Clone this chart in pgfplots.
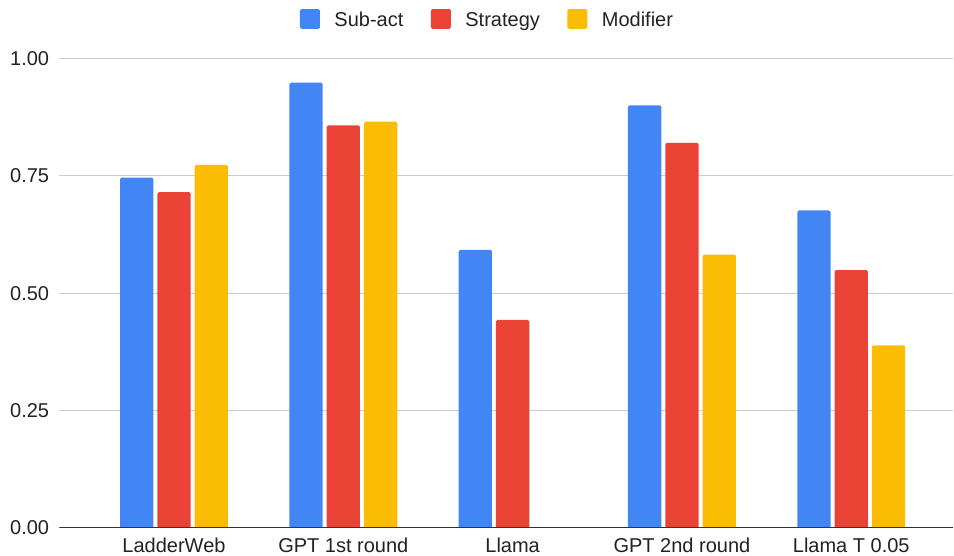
\documentclass[border=0pt]{standalone}
\usepackage{fontspec}
\setmainfont{Liberation Sans}
\usepackage{pgfplots}
\pgfplotsset{compat=1.18}
\definecolor{cblue}{HTML}{4285F4}
\definecolor{cred}{HTML}{EA4335}
\definecolor{cyellow}{HTML}{FBBC04}
\definecolor{tgray}{HTML}{222222}
\definecolor{gridc}{HTML}{CCCCCC}
\definecolor{axisc}{HTML}{333333}
\begin{document}
\begin{tikzpicture}
\useasboundingbox (0,0) rectangle (954pt,556pt);
\begin{axis}[
  at={(59.3pt,28pt)}, anchor=south west,
  scale only axis, width=893.7pt, height=469.7pt,
  xmin=-0.6775, xmax=4.601, ymin=0, ymax=1,
  ybar=4pt, bar width=33.3pt,
  axis line style={draw=none},
  major tick length=0pt,
  ymajorgrids, major grid style={gridc, line width=1pt},
  xtick={0,1,2,3,4},
  xticklabels={LadderWeb,GPT 1st round,Llama,GPT 2nd round,Llama T 0.05},
  ytick={0,0.25,0.5,0.75,1},
  font=\fontsize{20}{24}\selectfont,
  /pgf/number format/assume math mode=true,
  yticklabel style={/pgf/number format/.cd, fixed, fixed zerofill, precision=2, /tikz/.cd,
    font=\fontsize{20}{24}\selectfont, text=tgray, inner sep=0pt, xshift=-10pt},
  xticklabel style={font=\fontsize{20}{24}\selectfont, text=tgray, inner sep=0pt, anchor=north, yshift=-10pt},
  legend columns=3,
  legend style={at={(0.2693,1.0838)}, anchor=west, draw=none, fill=none, inner sep=0pt, outer sep=0pt,
    font=\fontsize{20}{24}\selectfont, text=tgray,
    nodes={inner sep=0pt},
    /tikz/every odd column/.style={column sep=14.5pt},
    /tikz/every even column/.style={column sep=27.5pt}},
  legend image code/.code={\fill[#1, rounded corners=1.5pt] (0pt,-9pt) rectangle (20pt,10.7pt);},
]
\addplot[fill=cblue, draw=none, rounded corners=1.5pt] coordinates {(0,0.746) (1,0.948) (2,0.592) (3,0.900) (4,0.676)};
\addplot[fill=cred, draw=none, rounded corners=1.5pt] coordinates {(0,0.715) (1,0.857) (2,0.443) (3,0.820) (4,0.549)};
\addplot[fill=cyellow, draw=none, rounded corners=1.5pt] coordinates {(0,0.773) (1,0.865) (3,0.582) (4,0.389)};
\legend{Sub-act,Strategy,Modifier}
\draw[axisc, line width=1.3pt] (rel axis cs:0,0) -- (rel axis cs:1,0);
\end{axis}
\end{tikzpicture}
\end{document}
